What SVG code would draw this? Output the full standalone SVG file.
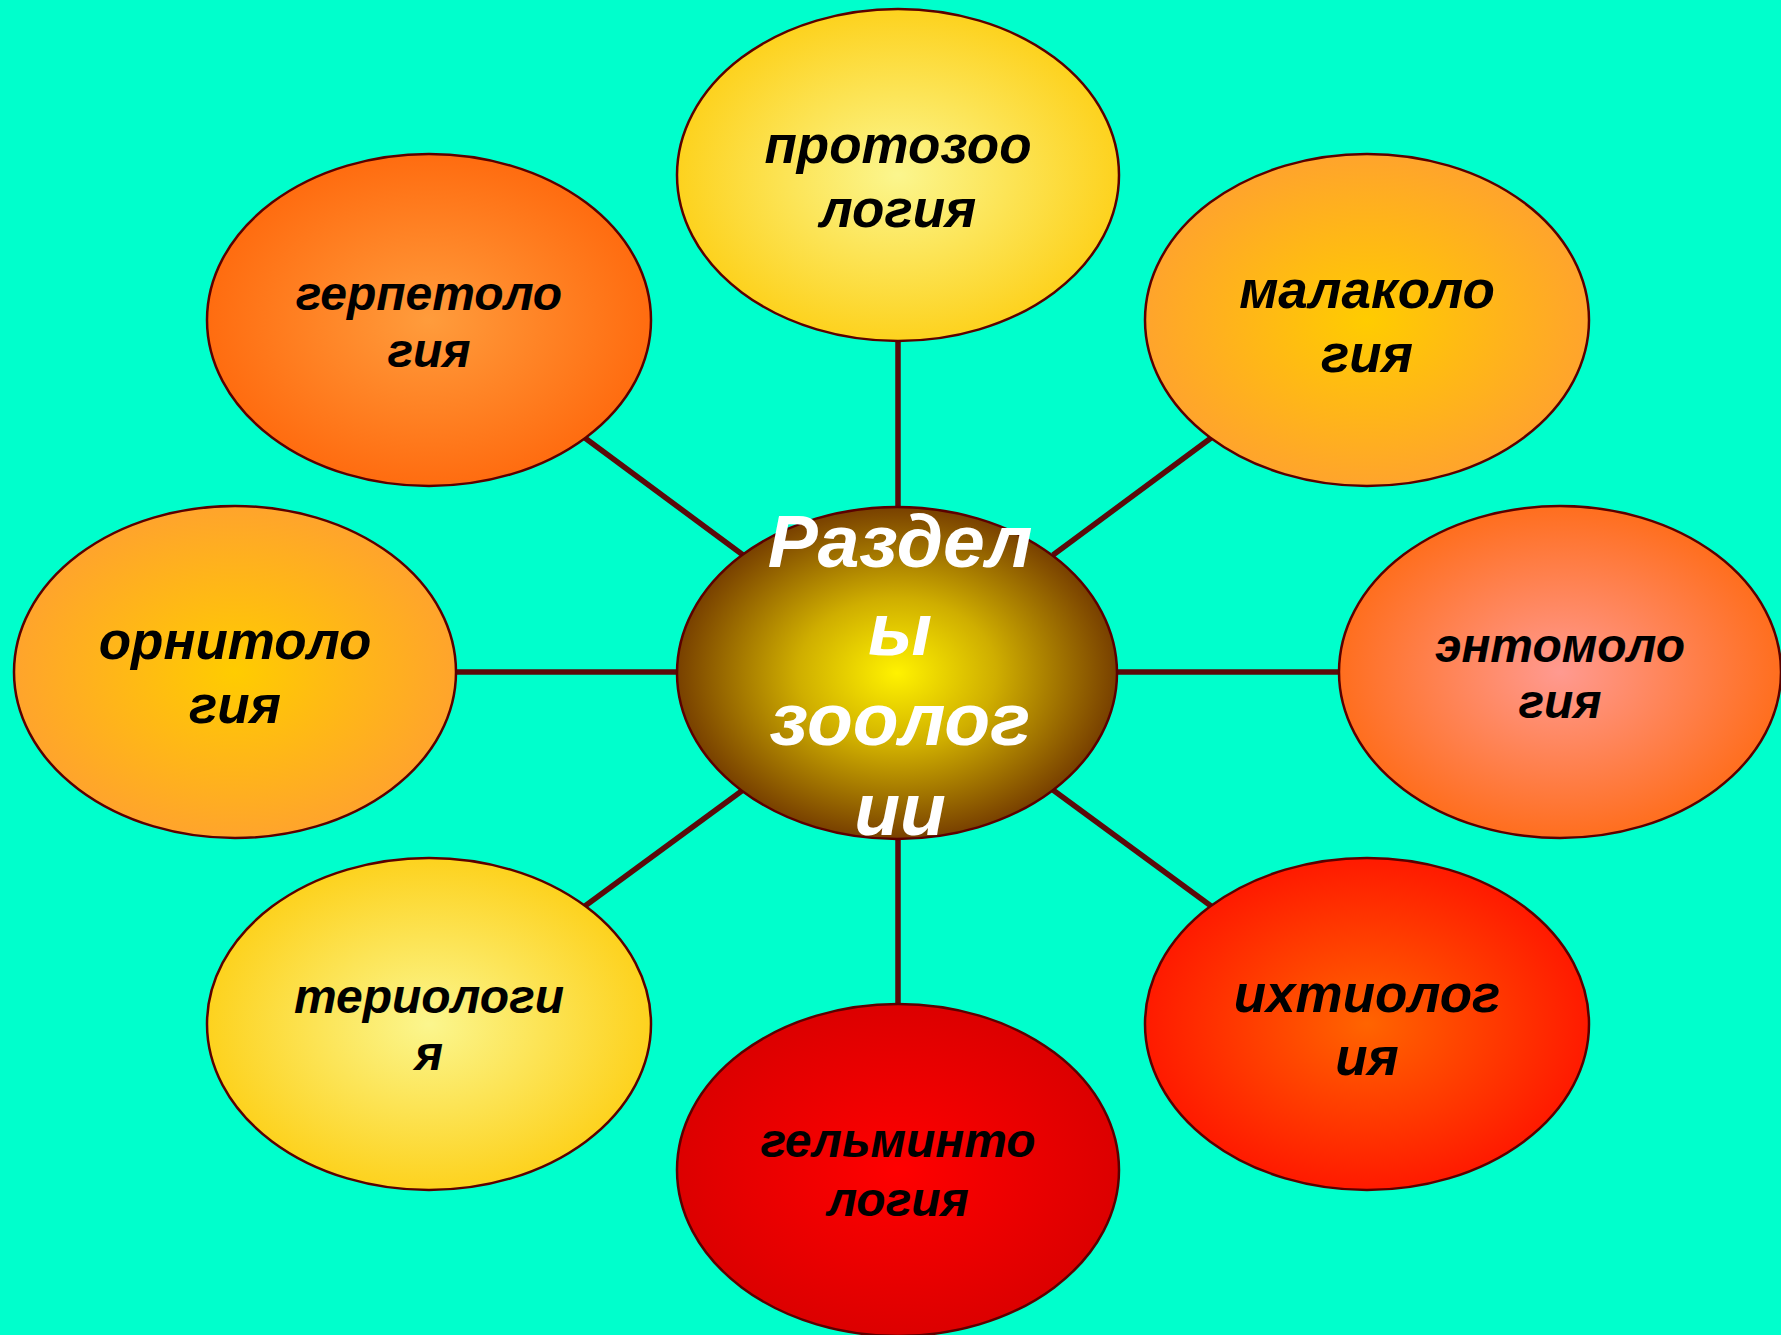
<svg xmlns="http://www.w3.org/2000/svg" width="1781" height="1335" viewBox="0 0 1781 1335">
<style>
.node{stroke:#5a0000;stroke-width:2.5}
.conn{stroke:#5a0a0a;stroke-width:5.5;fill:none}
.lbl{font-family:"Liberation Sans",Arial,sans-serif;font-weight:bold;font-style:italic;fill:#000;text-anchor:middle}
.big{font-size:53px}
.small{font-size:48px}
.center{font-family:"Liberation Sans",Arial,sans-serif;font-weight:bold;font-style:italic;fill:#fff;text-anchor:middle;font-size:75px}
</style>
<defs>
<radialGradient id="gYellow"><stop offset="0" stop-color="#fbf68e"/><stop offset="1" stop-color="#fdd21e"/></radialGradient>
<radialGradient id="gOrange"><stop offset="0" stop-color="#ff9c3c"/><stop offset="1" stop-color="#ff6c10"/></radialGradient>
<radialGradient id="gGold"><stop offset="0" stop-color="#ffcc00"/><stop offset="1" stop-color="#ffa42c"/></radialGradient>
<radialGradient id="gPink"><stop offset="0" stop-color="#ff9a90"/><stop offset="1" stop-color="#ff6e1e"/></radialGradient>
<radialGradient id="gRedOrange"><stop offset="0" stop-color="#ff6400"/><stop offset="1" stop-color="#ff1a00"/></radialGradient>
<radialGradient id="gRed"><stop offset="0" stop-color="#ff0000"/><stop offset="1" stop-color="#dc0000"/></radialGradient>
<radialGradient id="gCenter"><stop offset="0" stop-color="#fff200"/><stop offset="0.45" stop-color="#cfae00"/><stop offset="1" stop-color="#784000"/></radialGradient>
</defs>
<rect width="1781" height="1335" fill="#00ffcc"/>
<g id="connectors">
<line class="conn" x1="898" y1="341" x2="898" y2="508"/>
<line class="conn" x1="898" y1="838" x2="898" y2="1005"/>
<line class="conn" x1="456" y1="672" x2="677" y2="672"/>
<line class="conn" x1="1117" y1="672" x2="1339" y2="672"/>
<line class="conn" x1="585" y1="438" x2="743" y2="555"/>
<line class="conn" x1="1053" y1="555" x2="1211" y2="438"/>
<line class="conn" x1="585" y1="906" x2="743" y2="790"/>
<line class="conn" x1="1053" y1="790" x2="1211" y2="906"/>
</g>
<g id="node-protozoology">
<ellipse class="node" cx="898" cy="175" rx="221" ry="166" fill="url(#gYellow)"/>
<text class="lbl big" x="898" y="163">протозоо</text>
<text class="lbl big" x="898" y="227">логия</text>
</g>
<g id="node-herpetology">
<ellipse class="node" cx="429" cy="320" rx="222" ry="166" fill="url(#gOrange)"/>
<text class="lbl small" x="429" y="310">герпетоло</text>
<text class="lbl small" x="429" y="367">гия</text>
</g>
<g id="node-malacology">
<ellipse class="node" cx="1367" cy="320" rx="222" ry="166" fill="url(#gGold)"/>
<text class="lbl big" x="1367" y="308">малаколо</text>
<text class="lbl big" x="1367" y="372">гия</text>
</g>
<g id="node-ornithology">
<ellipse class="node" cx="235" cy="672" rx="221" ry="166" fill="url(#gGold)"/>
<text class="lbl big" x="235" y="659">орнитоло</text>
<text class="lbl big" x="235" y="723">гия</text>
</g>
<g id="node-entomology">
<ellipse class="node" cx="1560" cy="672" rx="221" ry="166" fill="url(#gPink)"/>
<text class="lbl small" x="1560" y="662">энтомоло</text>
<text class="lbl small" x="1560" y="718">гия</text>
</g>
<g id="node-teriology">
<ellipse class="node" cx="429" cy="1024" rx="222" ry="166" fill="url(#gYellow)"/>
<text class="lbl small" x="429" y="1013">териологи</text>
<text class="lbl small" x="429" y="1070">я</text>
</g>
<g id="node-ichthyology">
<ellipse class="node" cx="1367" cy="1024" rx="222" ry="166" fill="url(#gRedOrange)"/>
<text class="lbl big" x="1367" y="1012">ихтиолог</text>
<text class="lbl big" x="1367" y="1075">ия</text>
</g>
<g id="node-helminthology">
<ellipse class="node" cx="898" cy="1170" rx="221" ry="166" fill="url(#gRed)"/>
<text class="lbl small" x="898" y="1157">гельминто</text>
<text class="lbl small" x="898" y="1216">логия</text>
</g>
<g id="node-center">
<ellipse class="node" cx="897" cy="673" rx="220" ry="166" fill="url(#gCenter)"/>
<text class="center" x="900" y="567">Раздел</text>
<text class="center" x="900" y="655">ы</text>
<text class="center" x="900" y="745">зоолог</text>
<text class="center" x="900" y="835">ии</text>
</g>
</svg>
